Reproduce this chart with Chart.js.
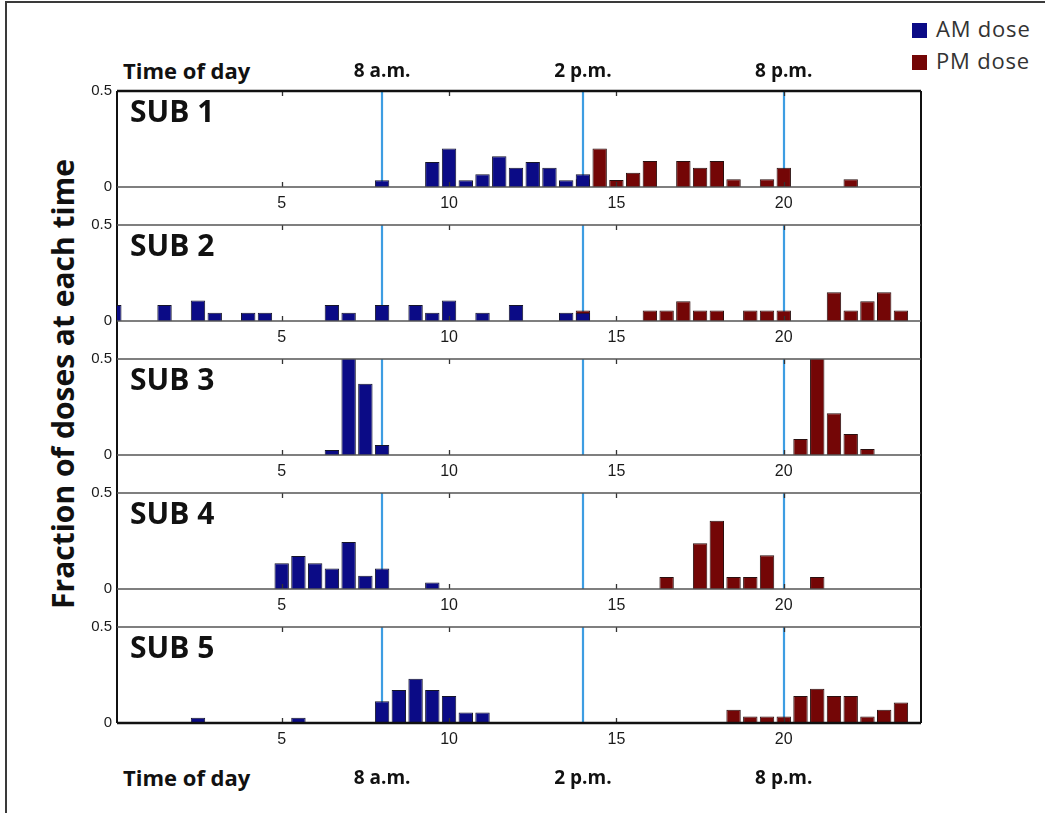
<!DOCTYPE html>
<html lang="en">
<head>
<meta charset="UTF-8">
<title>Dose timing per subject</title>
<script src="https://cdn.jsdelivr.net/npm/chart.js@4.4.1/dist/chart.umd.min.js"></script>
<style>
    html, body { margin: 0; padding: 0; background: #fff; }
    #page { position: relative; width: 1045px; height: 813px; overflow: hidden; font-family: "Open Sans", sans-serif; }
    #page canvas { position: absolute; left: 0; }
    .outer { position: absolute; left: 5px; top: 1px; width: 1200px; height: 900px;
             border-left: 2px solid #3a3a3a; border-top: 2px solid #3a3a3a; }
    .frame { position: absolute; box-sizing: border-box; border-left: 2px solid #111; border-right: 2px solid #111; }
    .ytitle { position: absolute; width: 600px; left: -237px; top: 366px; text-align: center;
              font-size: 30px; font-weight: 700; color: #111; line-height: 36px; transform: rotate(-90deg); }
    .timeofday { position: absolute; left: 123px; font-size: 22px; font-weight: 700; color: #111; line-height: 26px; }
    .legend { position: absolute; left: 912px; font-size: 22px; letter-spacing: 0.8px; color: #333;
              line-height: 26px; white-space: nowrap; }
    .legend span { display: inline-block; width: 15px; height: 15px; margin-right: 9px; vertical-align: -1px; }
</style>
</head>
<body>
<div id="page">
    <div class="outer"></div>
    <div class="frame" style="left:116px; top:91px; width:806px; height:632px;"></div>
    <div class="ytitle">Fraction of doses at each time</div>
    <div class="timeofday" style="top:57px;">Time of day</div>
    <div class="timeofday" style="top:764px;">Time of day</div>
    <div class="legend" style="top:15px;"><span style="background:#0b0b86"></span>AM dose</div>
    <div class="legend" style="top:47px;"><span style="background:#740606"></span>PM dose</div>
</div>

<script>
    // axis ticks and labels
    const hourTicks = [5, 10, 15, 20];
    const markerHours = [8, 14, 20];
    const markerLabels = ['8 a.m.', '2 p.m.', '8 p.m.'];
    const yTicks = [0, 0.5];
    const subjects = ['SUB 1', 'SUB 2', 'SUB 3', 'SUB 4', 'SUB 5'];

    // [hour, fraction of doses]
    const sub1Am = [[8, 0.035], [9.5, 0.13], [10, 0.2], [10.5, 0.035], [11, 0.067], [11.5, 0.16],
                    [12, 0.1], [12.5, 0.13], [13, 0.1], [13.5, 0.035], [14, 0.067]];
    const sub1Pm = [[14, 0.04], [14.5, 0.2], [15, 0.037], [15.5, 0.074], [16, 0.135], [17, 0.135],
                    [17.5, 0.1], [18, 0.135], [18.5, 0.04], [19.5, 0.04], [20, 0.1], [22, 0.04]];
    const sub2Am = [[0, 0.083], [1.5, 0.083], [2.5, 0.107], [3, 0.043], [4, 0.043], [4.5, 0.043],
                    [6.5, 0.083], [7, 0.043], [8, 0.083], [9, 0.083], [9.5, 0.043], [10, 0.107],
                    [11, 0.043], [12, 0.083], [13.5, 0.043], [14, 0.043]];
    const sub2Pm = [[14, 0.055], [16, 0.055], [16.5, 0.055], [17, 0.103], [17.5, 0.055], [18, 0.055],
                    [19, 0.055], [19.5, 0.055], [20, 0.055], [21.5, 0.15], [22, 0.055], [22.5, 0.103],
                    [23, 0.15], [23.5, 0.055]];
    const sub3Am = [[6.5, 0.026], [7, 0.55], [7.5, 0.371], [8, 0.052]];
    const sub3Pm = [[20.5, 0.083], [21, 0.56], [21.5, 0.217], [22, 0.11], [22.5, 0.031]];
    const sub4Am = [[5, 0.134], [5.5, 0.172], [6, 0.134], [6.5, 0.107], [7, 0.245], [7.5, 0.069],
                    [8, 0.107], [9.5, 0.034]];
    const sub4Pm = [[16.5, 0.062], [17.5, 0.238], [18, 0.355], [18.5, 0.062], [19, 0.062],
                    [19.5, 0.176], [21, 0.062]];
    const sub5Am = [[2.5, 0.027], [5.5, 0.027], [8, 0.113], [8.5, 0.172], [9, 0.23], [9.5, 0.172],
                    [10, 0.141], [10.5, 0.055], [11, 0.055]];
    const sub5Pm = [[18.5, 0.069], [19, 0.034], [19.5, 0.034], [20, 0.034], [20.5, 0.141], [21, 0.179],
                    [21.5, 0.141], [22, 0.141], [22.5, 0.034], [23, 0.069], [23.5, 0.107]];

    const amSeries = [sub1Am, sub2Am, sub3Am, sub4Am, sub5Am];
    const pmSeries = [sub1Pm, sub2Pm, sub3Pm, sub4Pm, sub5Pm];

    // layout
    const PAGE_W = 1045, PLOT_LEFT = 117, PLOT_RIGHT = 921;
    const PANEL_TOP = 91, PANEL_STEP = 134, PANEL_H = 96;
    const X_MIN = 0.08, X_MAX = 24.1;
    const AM_COLOR = '#0b0b86', PM_COLOR = '#740606', MARK_COLOR = '#3d9de2';

    Chart.defaults.animation = false;
    Chart.defaults.font.family = '"Liberation Sans", Arial, sans-serif';

    // blue marker lines behind bars, box lines, inner ticks and panel name on top
    const panelDecor = {
        id: 'panelDecor',
        beforeDatasetsDraw(chart) {
            const {ctx, chartArea: a, scales: {x}} = chart;
            ctx.save();
            ctx.strokeStyle = MARK_COLOR;
            ctx.lineWidth = 2.2;
            markerHours.forEach(h => {
                const px = Math.round(x.getPixelForValue(h));
                ctx.beginPath();
                ctx.moveTo(px, a.top);
                ctx.lineTo(px, a.bottom);
                ctx.stroke();
            });
            ctx.restore();
        },
        afterDatasetsDraw(chart, args, opts) {
            const {ctx, chartArea: a, scales: {x}} = chart;
            ctx.save();
            // ticks
            ctx.strokeStyle = '#333';
            ctx.lineWidth = 1.3;
            hourTicks.forEach(h => {
                const px = Math.round(x.getPixelForValue(h)) + 0.5;
                ctx.beginPath();
                ctx.moveTo(px, a.top);
                ctx.lineTo(px, a.top + 5);
                ctx.moveTo(px, a.bottom);
                ctx.lineTo(px, a.bottom - 5);
                ctx.stroke();
            });
            // top and zero lines
            ctx.strokeStyle = opts.first ? '#111' : '#555';
            ctx.lineWidth = opts.first ? 2.5 : 1.3;
            ctx.beginPath();
            ctx.moveTo(a.left, a.top);
            ctx.lineTo(a.right, a.top);
            ctx.stroke();
            ctx.strokeStyle = opts.last ? '#111' : '#555';
            ctx.lineWidth = opts.last ? 2.5 : 1.3;
            ctx.beginPath();
            ctx.moveTo(a.left, a.bottom);
            ctx.lineTo(a.right, a.bottom);
            ctx.stroke();
            // panel name
            ctx.fillStyle = '#111';
            ctx.font = '700 30px "Open Sans"';
            ctx.textBaseline = 'alphabetic';
            ctx.fillText(opts.name, a.left + 13, a.top + 31);
            ctx.restore();
        }
    };

    function timeAxis(position, padding, height) {
        return {
            type: 'linear', position: position, min: X_MIN, max: X_MAX, offset: false, weight: 1,
            grid: {display: false, drawTicks: false}, border: {display: false},
            afterBuildTicks: s => { s.ticks = markerHours.map(v => ({value: v})); },
            afterFit: s => { s.height = height; },
            ticks: {
                padding: padding, color: '#111', maxRotation: 0,
                font: {family: '"Open Sans"', size: 19, weight: '700'},
                callback: v => markerLabels[markerHours.indexOf(v)]
            }
        };
    }

    const page = document.getElementById('page');

    subjects.forEach((name, i) => {
        const first = i === 0, last = i === subjects.length - 1;
        const above = first ? 40 : 14;
        const below = last ? 70 : 28;
        const canvas = document.createElement('canvas');
        canvas.width = PAGE_W;
        canvas.height = above + PANEL_H + below;
        canvas.style.top = (PANEL_TOP + i * PANEL_STEP - above) + 'px';
        page.appendChild(canvas);

        const scales = {
            x: {
                type: 'linear', min: X_MIN, max: X_MAX, offset: false, weight: 0,
                grid: {display: false, drawTicks: false}, border: {display: false},
                afterBuildTicks: s => { s.ticks = hourTicks.map(v => ({value: v})); },
                afterFit: s => { s.height = 28; },
                ticks: {padding: 7, color: '#1a1a1a', maxRotation: 0, font: {size: 16}, callback: v => String(v)}
            },
            y: {
                min: 0, max: 0.5,
                grid: {display: false, drawTicks: false}, border: {display: false},
                afterBuildTicks: s => { s.ticks = yTicks.map(v => ({value: v})); },
                afterFit: s => { s.width = PLOT_LEFT; },
                ticks: {padding: 5, color: '#1a1a1a', font: {size: 15}, callback: v => String(v)}
            }
        };
        if (first) scales.xTop = timeAxis('top', 8, above);
        if (last) scales.xBottom = timeAxis('bottom', 16, below - 28);

        new Chart(canvas, {
            type: 'bar',
            data: {
                datasets: [{
                    label: 'AM dose',
                    data: amSeries[i].map(([h, f]) => ({x: h, y: f})),
                    backgroundColor: AM_COLOR,
                    borderColor: '#15152a',
                    borderWidth: 1,
                    grouped: false,
                    categoryPercentage: 1,
                    barPercentage: 0.86
                }, {
                    label: 'PM dose',
                    data: pmSeries[i].map(([h, f]) => ({x: h, y: f})),
                    backgroundColor: PM_COLOR,
                    borderColor: '#2a1010',
                    borderWidth: 1,
                    grouped: false,
                    categoryPercentage: 1,
                    barPercentage: 0.86
                }]
            },
            options: {
                responsive: false,
                devicePixelRatio: 1,
                events: [],
                layout: {padding: {top: first ? 0 : 14, left: 0, right: PAGE_W - PLOT_RIGHT, bottom: 0}},
                scales: scales,
                plugins: {
                    legend: {display: false},
                    tooltip: {enabled: false},
                    panelDecor: {name: name, first: first, last: last}
                }
            },
            plugins: [panelDecor]
        });
    });
</script>
</body>
</html>
